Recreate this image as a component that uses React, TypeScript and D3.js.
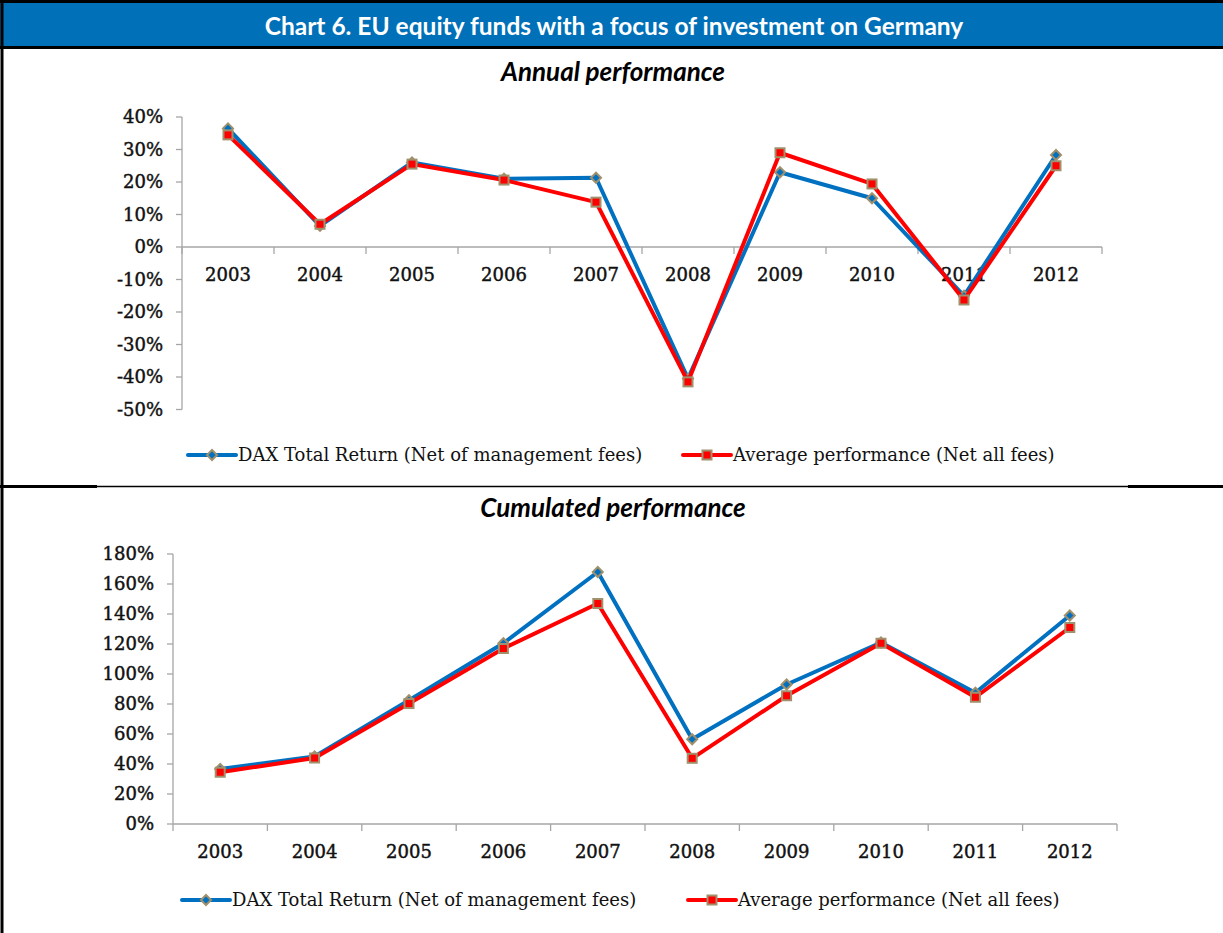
import * as d3 from 'd3';

const years = ['2003', '2004', '2005', '2006', '2007', '2008', '2009', '2010', '2011', '2012'];

// annual performance, in %
const annualDax = [36.5, 6.5, 26, 21, 21.3, -40.5, 23, 15, -15, 28.3];
const annualAvg = [34.5, 7, 25.5, 20.6, 13.8, -41.5, 29, 19.4, -16.3, 25];

// cumulated performance, in %
const cumDax = [36.7, 45, 82.5, 120.5, 168, 56.5, 93, 121, 87.5, 139];
const cumAvg = [34.5, 44, 80.3, 117, 147, 43.8, 85.5, 120.5, 84.5, 131];

const annualTicks = [40, 30, 20, 10, 0, -10, -20, -30, -40, -50];
const cumTicks = [180, 160, 140, 120, 100, 80, 60, 40, 20, 0];

const seriesNames = ['DAX Total Return (Net of management fees)', 'Average performance (Net all fees)'];

const BLUE = '#0070c0';
const RED = '#ff0000';
const MARKER_EDGE = '#a0906c';
const AXIS = '#a6a6a6';
const serif = '"DejaVu Serif", serif';
const sans = 'Lato, "Open Sans", sans-serif';

interface PanelProps {
  dax: number[];
  avg: number[];
  ticks: number[];
  xRange: [number, number];
  yDomain: [number, number];
  yRange: [number, number];
  legendY: number;
  legendX: [number, number];
}

function Diamond({ x, y }: { x: number; y: number }) {
  const s = 5;
  return (
    <path
      d={`M${x},${y - s}L${x + s},${y}L${x},${y + s}L${x - s},${y}Z`}
      fill={BLUE}
      stroke={MARKER_EDGE}
      strokeWidth={2}
    />
  );
}

function Square({ x, y }: { x: number; y: number }) {
  const s = 4.5;
  return <rect x={x - s} y={y - s} width={s * 2} height={s * 2} fill={RED} stroke={MARKER_EDGE} strokeWidth={2} />;
}

const tickText = {
  fontFamily: serif,
  fontSize: 18,
  fill: '#111',
  stroke: '#111',
  strokeWidth: 0.45,
};

function Panel({ dax, avg, ticks, xRange, yDomain, yRange, legendY, legendX }: PanelProps) {
  const x = d3.scaleBand<string>().domain(years).range(xRange);
  const y = d3.scaleLinear().domain(yDomain).range(yRange);
  const zeroY = y(0);
  const cx = (i: number) => (x(years[i]) ?? 0) + x.bandwidth() / 2;

  const line = d3
    .line<number>()
    .x((_, i) => cx(i))
    .y((d) => y(d));

  const boundaries = years.map((yr) => x(yr) ?? 0).concat([xRange[1]]);

  return (
    <g>
      {/* y axis */}
      <line x1={xRange[0]} x2={xRange[0]} y1={y(yDomain[1])} y2={y(yDomain[0])} stroke={AXIS} strokeWidth={1.3} />
      {ticks.map((t) => (
        <g key={t}>
          <line x1={xRange[0] - 6} x2={xRange[0]} y1={y(t)} y2={y(t)} stroke={AXIS} strokeWidth={1.3} />
          <text x={xRange[0] - 19} y={y(t)} dy="0.35em" textAnchor="end" {...tickText}>
            {t}%
          </text>
        </g>
      ))}

      {/* x axis */}
      <line x1={xRange[0]} x2={xRange[1]} y1={zeroY} y2={zeroY} stroke={AXIS} strokeWidth={1.3} />
      {boundaries.map((b, i) => (
        <line key={i} x1={b} x2={b} y1={zeroY} y2={zeroY + 7} stroke={AXIS} strokeWidth={1.3} />
      ))}
      {years.map((yr, i) => (
        <text key={yr} x={cx(i)} y={zeroY + 28} dy="0.35em" textAnchor="middle" {...tickText}>
          {yr}
        </text>
      ))}

      {/* series */}
      <path d={line(dax) ?? ''} fill="none" stroke={BLUE} strokeWidth={4} strokeLinejoin="round" />
      {dax.map((d, i) => (
        <Diamond key={i} x={cx(i)} y={y(d)} />
      ))}
      <path d={line(avg) ?? ''} fill="none" stroke={RED} strokeWidth={4} strokeLinejoin="round" />
      {avg.map((d, i) => (
        <Square key={i} x={cx(i)} y={y(d)} />
      ))}

      {/* legend */}
      <g>
        <line x1={legendX[0]} x2={legendX[0] + 48} y1={legendY} y2={legendY} stroke={BLUE} strokeWidth={4} strokeLinecap="round" />
        <Diamond x={legendX[0] + 24} y={legendY} />
        <text x={legendX[0] + 50} y={legendY} dy="0.35em" fontFamily={serif} fontSize={18} fill="#111">
          {seriesNames[0]}
        </text>
        <line x1={legendX[1]} x2={legendX[1] + 48} y1={legendY} y2={legendY} stroke={RED} strokeWidth={4} strokeLinecap="round" />
        <Square x={legendX[1] + 24} y={legendY} />
        <text x={legendX[1] + 50} y={legendY} dy="0.35em" fontFamily={serif} fontSize={18} fill="#111">
          {seriesNames[1]}
        </text>
      </g>
    </g>
  );
}

export default function App() {
  const W = 1223;
  const H = 933;
  return (
    <svg width={W} height={H} style={{ position: 'absolute', left: 0, top: 0, background: '#fff' }}>
      <rect x={0} y={0} width={W} height={H} fill="#fff" />

      {/* header */}
      <rect x={0} y={2} width={W} height={45} fill="#0070b8" />
      <line x1={0} x2={W} y1={1.5} y2={1.5} stroke="#000" strokeWidth={3} />
      <line x1={0} x2={W} y1={47.5} y2={47.5} stroke="#000" strokeWidth={3} />
      <text x={614} y={26} dy="0.35em" textAnchor="middle" fontFamily={sans} fontWeight="bold" fontSize={24.5} fill="#fff">
        Chart 6. EU equity funds with a focus of investment on Germany
      </text>

      {/* frame */}
      <line x1={2} x2={2} y1={0} y2={H} stroke="#000" strokeWidth={3} />
      <line x1={0} x2={97} y1={486.5} y2={486.5} stroke="#000" strokeWidth={3} />
      <line x1={97} x2={1128} y1={486.5} y2={486.5} stroke="#000" strokeWidth={1.5} />
      <line x1={1128} x2={W} y1={486.5} y2={486.5} stroke="#000" strokeWidth={3} />

      <text x={613} y={72} dy="0.35em" textAnchor="middle" fontFamily={sans} fontWeight="bold" fontStyle="italic" fontSize={26} fill="#000">
        Annual performance
      </text>
      <text x={613} y={508} dy="0.35em" textAnchor="middle" fontFamily={sans} fontWeight="bold" fontStyle="italic" fontSize={26} fill="#000">
        Cumulated performance
      </text>

      <Panel
        dax={annualDax}
        avg={annualAvg}
        ticks={annualTicks}
        xRange={[182, 1102]}
        yDomain={[-50, 40]}
        yRange={[409.5, 117]}
        legendY={455}
        legendX={[188, 683]}
      />
      <Panel
        dax={cumDax}
        avg={cumAvg}
        ticks={cumTicks}
        xRange={[173, 1117]}
        yDomain={[0, 180]}
        yRange={[824, 554]}
        legendY={900}
        legendX={[182, 688]}
      />
    </svg>
  );
}
